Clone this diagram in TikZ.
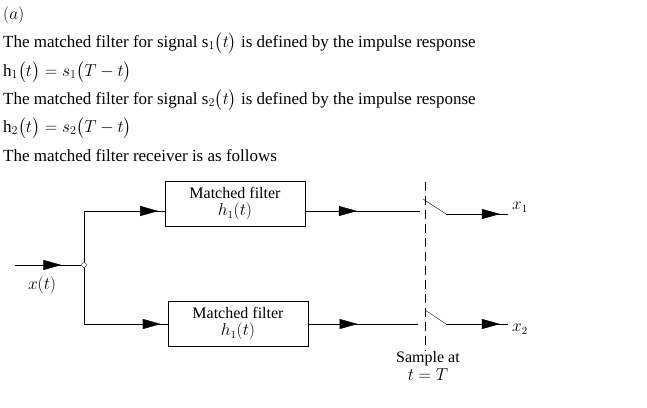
\documentclass[tikz,border=0pt]{standalone}
\usepackage{fontspec}
\usepackage{amsmath}
\setmainfont{Liberation Serif}
\usetikzlibrary{arrows.meta,decorations.markings,positioning}

\begin{document}
\begin{tikzpicture}[x=1pt,y=-1pt,
  every node/.style={inner sep=0pt},
  txt/.style={anchor=west,font=\fontsize{17}{19}\selectfont,text height=11pt,text depth=3pt},
  filterbox/.style={draw,minimum width=140pt,minimum height=45pt,font=\fontsize{16}{17}\selectfont,align=center},
  midarrow/.style={decoration={markings,mark=at position #1 with {\arrow{Triangle[length=18pt,width=10pt]}}},postaction={decorate}}]
\useasboundingbox (0,0) rectangle (647,407);
% text part
\node[txt] (lbla) at (3,15) {$(a)$};
\node[txt] (line1) at (3,43) {The matched filter for signal s$_1\big(t\big)$ is defined by the impulse response};
\node[txt] (line2) at (3,72) {h$_1\big(t\big)=s_1\big(T-t\big)$};
\node[txt] (line3) at (3,100) {The matched filter for signal s$_2\big(t\big)$ is defined by the impulse response};
\node[txt] (line4) at (3,128) {h$_2\big(t\big)=s_2\big(T-t\big)$};
\node[txt] (line5) at (3,157) {The matched filter receiver is as follows};
% diagram
\coordinate (in) at (15,265);
\node[draw,circle,minimum size=5pt] (split) at (84,265) {};
\node[filterbox] (mf1) at (235,204) {Matched filter\\ $h_1(t)$};
\node[filterbox] (mf2) at (238,324) {Matched filter\\ $h_1(t)$};
\coordinate (s1a) at (420,211);
\coordinate (s1b) at (423,199);
\coordinate (s1c) at (446,214);
\coordinate (s2a) at (418,324);
\coordinate (s2b) at (425,310);
\coordinate (s2c) at (446,324);
\node[anchor=west,font=\fontsize{16}{17}\selectfont] (x1) at (512,207) {$x_1$};
\node[anchor=west,font=\fontsize{16}{17}\selectfont] (x2) at (512,329) {$x_2$};
\node[font=\fontsize{16}{17}\selectfont] (xt) at (42,285) {$x(t)$};
\node[font=\fontsize{16}{18}\selectfont,align=center] (smp) at (428,366) {Sample at\\ $t=T$};
\draw[midarrow=0.7] (in) -- (split);
\draw[midarrow=0.95] (split) |- (mf1.west|-0,211);
\draw[midarrow=0.95] (split) |- (mf2.west);
\draw[midarrow=0.45] (mf1.east|-0,211) -- (s1a);
\draw[midarrow=0.45] (mf2.east) -- (s2a);
\draw (s1b) -- (s1c);
\draw (s2b) -- (s2c);
\draw[midarrow=0.87] (s1c) -- (508,214);
\draw[midarrow=0.87] (s2c) -- (508,324);
\draw[dashed,dash pattern=on 9pt off 5pt] (425,182) -- (smp.north-|425,0);
\end{tikzpicture}
\end{document}
